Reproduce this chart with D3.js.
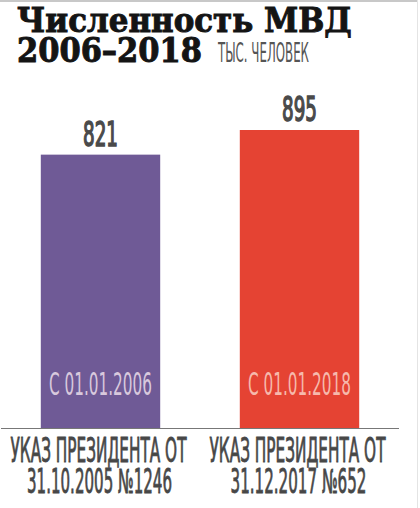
<!DOCTYPE html>
<html><head><meta charset="utf-8">
<script src="https://cdn.jsdelivr.net/npm/d3@7"></script>
<style>html,body{margin:0;padding:0;background:#fff;}svg{display:block;}</style>
</head><body><div id="chart"></div>
<script>
const categories = ["2006", "2018"];
const values = [821, 895];
const innerLabels = ["С 01.01.2006", "С 01.01.2018"];
const bottomLine1 = ["УКАЗ ПРЕЗИДЕНТА ОТ", "УКАЗ ПРЕЗИДЕНТА ОТ"];
const bottomLine2 = ["31.10.2005 №1246", "31.12.2017 №652"];
const colors = ["#6f5a96", "#e54333"];
const innerColors = ["#d8c9dd", "#f6b9ac"];

const W = 420, H = 508;
const svg = d3.select("#chart").append("svg").attr("width", W).attr("height", H);
const condensed = "'DejaVu Sans Condensed','Liberation Sans Narrow',sans-serif";

// place a text so that it spans `width` px and has cap height `cap`
function fit(parent, str, x, baseline, width, cap, opts) {
  const fs = 20;
  const t = parent.append("text")
    .attr("font-family", opts.family).attr("font-weight", opts.weight || 400)
    .attr("font-size", fs).attr("fill", opts.fill)
    .attr("text-anchor", opts.anchor || "middle")
    .text(str);
  const w = t.node().getComputedTextLength();
  const sx = width / w, sy = cap / (fs * (opts.capRatio || 0.729));
  t.attr("transform", `translate(${x},${baseline}) scale(${sx},${sy})`);
  if (opts.stroke) t.attr("stroke", opts.fill).attr("stroke-width", opts.stroke).attr("paint-order", "stroke");
  return t;
}

// frame lines
svg.append("line").attr("x1", 0).attr("x2", 418).attr("y1", 1).attr("y2", 1)
  .attr("stroke", "#c8c8c8").attr("stroke-width", 2);
svg.append("line").attr("x1", 417.5).attr("x2", 417.5).attr("y1", 0).attr("y2", H)
  .attr("stroke", "#e4e4e4").attr("stroke-width", 1);

// title
const serif = { family: "'DejaVu Serif',serif", weight: 700, fill: "#141414", anchor: "start", stroke: 0.6 };
fit(svg, "Численность МВД", 17, 32, 335, 24, serif);
fit(svg, "2006–2018", 17, 62, 185, 24, serif);
fit(svg, "ТЫС. ЧЕЛОВЕК", 218, 62, 91, 19, { family: condensed, weight: 400, fill: "#555", anchor: "start" });

// scales
const x = d3.scaleBand().domain(categories).range([1, 399]).paddingInner(0.4).paddingOuter(0.2);
const y = d3.scaleLinear().domain([0, 895]).range([428, 130]);

const g = svg.append("g");
g.selectAll("rect.bar").data(values).join("rect").attr("class", "bar")
  .attr("x", (d, i) => x(categories[i]))
  .attr("width", x.bandwidth())
  .attr("y", d => y(d))
  .attr("height", d => y(0) - y(d))
  .attr("fill", (d, i) => colors[i]);

// baseline axis
const axis = d3.axisBottom(x).tickSize(0).tickFormat("");
const ag = svg.append("g").attr("transform", `translate(0,${y(0)})`).call(axis);
ag.select(".domain").attr("stroke", "#777").attr("stroke-width", 1.2).attr("d", "M1,0.5H399");

const cx = i => x(categories[i]) + x.bandwidth() / 2;

// value labels
values.forEach((v, i) => fit(g, String(v), cx(i), y(v) - 9, 35, 24,
  { family: condensed, weight: 400, fill: "#4a4a4a", stroke: 0.9 }));

// inner labels
innerLabels.forEach((s, i) => fit(g, s, cx(i), 395, 103, 23,
  { family: condensed, weight: 400, fill: innerColors[i] }));

// bottom labels
const l1w = [176, 176], l2w = [145, 136];
bottomLine1.forEach((s, i) => fit(g, s, cx(i) - 2, 462, l1w[i], 24,
  { family: condensed, weight: 400, fill: "#474747", stroke: 0.5 }));
bottomLine2.forEach((s, i) => fit(g, s, cx(i) - 1, 493, l2w[i], 24,
  { family: condensed, weight: 400, fill: "#474747", stroke: 0.5 }));
</script></body></html>
